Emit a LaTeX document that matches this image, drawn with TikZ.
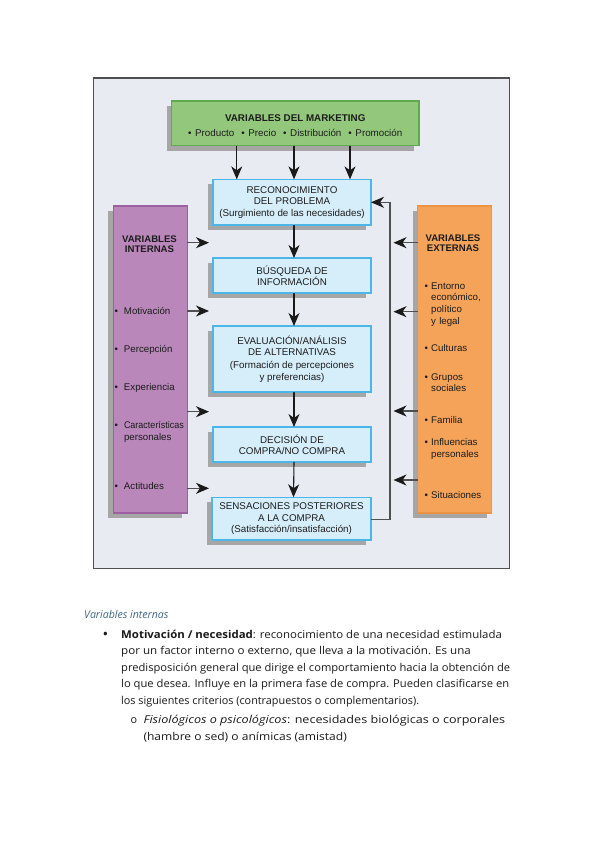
\documentclass[tikz,border=0pt]{standalone}
\usepackage{fontspec}
\usepackage{graphicx}
\usetikzlibrary{arrows.meta,shadows}
\newfontfamily\dfont{Liberation Sans}
\newfontfamily\tfont{Open Sans}
\definecolor{framefill}{HTML}{E9EBF3}
\definecolor{framedraw}{HTML}{505050}
\definecolor{shadowc}{HTML}{A6A6A6}
\definecolor{greenf}{HTML}{93C87C}
\definecolor{greend}{HTML}{5EAA4C}
\definecolor{bluef}{HTML}{D6EEFA}
\definecolor{blued}{HTML}{4DB6E8}
\definecolor{purplef}{HTML}{B987BA}
\definecolor{purpled}{HTML}{9C5FA0}
\definecolor{orangef}{HTML}{F4A359}
\definecolor{oranged}{HTML}{EC9443}
\definecolor{txt}{HTML}{1C1C1C}
\definecolor{arrowc}{HTML}{1A1A1A}
\definecolor{fbc}{HTML}{505050}
\definecolor{bodyc}{HTML}{1A1A1A}
\definecolor{headc}{HTML}{41678A}
\tikzset{
  arr/.style={-{Stealth[length=13bp,width=11bp,inset=4bp]}, line width=1.1bp, draw=arrowc},
  arrg/.style={-{Stealth[length=13bp,width=11bp,inset=4bp,arrowc]}, line width=1.1bp, draw=fbc},
  box/.style={draw, line width=1.3bp, inner sep=0pt, outer sep=0pt,
    drop shadow={shadow xshift=-5bp, shadow yshift=-5bp, fill=shadowc, opacity=1},
    align=center, text=txt, font=\dfont\fontsize{9.8bp}{11.4bp}\selectfont},
  stepbox/.style={box, fill=bluef, draw=blued, minimum width=158bp},
  sidebox/.style={box, minimum width=74bp, minimum height=307bp},
  dtext/.style={inner sep=0pt, text=txt, font=\dfont\fontsize{9.8bp}{11.4bp}\selectfont},
  sidetitle/.style={inner sep=0pt, anchor=base, text width=74bp, align=center, text=txt,
    font=\dfont\bfseries\fontsize{9.6bp}{10.2bp}\selectfont},
  item/.style={inner sep=0pt, anchor=base west, text width=76bp, align=left, text=txt,
    font=\dfont\fontsize{9.7bp}{11.7bp}\selectfont},
  body/.style={inner sep=0pt, anchor=base west, text=bodyc, font=\tfont\fontsize{10.8bp}{12bp}\selectfont},
}
\newcommand\lb{\makebox[9.5bp][l]{\textbullet}}
\newcommand\lc{\hspace*{9.5bp}}
\newcommand\rb{\makebox[6.7bp][l]{\textbullet}}
\newcommand\rc{\hspace*{6.7bp}}
\newcommand\mb{\textbullet\hspace{3.6bp}}
\newcommand\fitw[2]{\resizebox{#1bp}{\height}{#2}}
\begin{document}
\begin{tikzpicture}[x=1bp,y=-1bp]
\useasboundingbox (0,0) rectangle (599,848);
\fill[white] (0,0) rectangle (599,848);

% frame
\node[draw=framedraw, fill=framefill, line width=1.2bp, inner sep=0pt,
  minimum width=416bp, minimum height=490.5bp] (frame) at (301.5,323.25) {};

% marketing box
\node[box, fill=greenf, draw=greend, minimum width=247.5bp, minimum height=44.5bp] (mkt) at (295.25,123.25) {};
\node[dtext, anchor=base, font=\dfont\bfseries\fontsize{9.8bp}{11bp}\selectfont] (mktt) at (295.25,121.2) {VARIABLES DEL MARKETING};
\node[dtext, anchor=base] (mktl) at (295.25,136.4) {\mb Producto\hspace{7bp}\mb Precio\hspace{7bp}\mb Distribución\hspace{7bp}\mb Promoción};

% process boxes
\node[stepbox, minimum height=45.7bp] (rec) at (292,202.2) {RECONOCIMIENTO\\DEL PROBLEMA\\(Surgimiento de las necesidades)};
\node[stepbox, minimum height=35bp] (bus) at (292,275.5) {BÚSQUEDA DE\\INFORMACIÓN};
\node[stepbox, minimum height=66bp] (eva) at (292,359) {EVALUACIÓN/ANÁLISIS\\DE ALTERNATIVAS\\[2bp](Formación de percepciones\\y preferencias)};
\node[stepbox, minimum height=35bp] (dec) at (292,444.5) {DECISIÓN DE\\COMPRA/NO COMPRA};
\node[stepbox, minimum width=159bp, minimum height=42.7bp] (sen) at (291.5,518.6) {SENSACIONES POSTERIORES\\A LA COMPRA\\(Satisfacción/insatisfacción)};

% side boxes
\node[sidebox, fill=purplef, draw=purpled] (vint) at (150.3,359.5) {};
\node[sidebox, fill=orangef, draw=oranged] (vext) at (454.7,359.5) {};

% internal variables text
\node[sidetitle] (vintt) at (149.5,242.4) {VARIABLES\\INTERNAS};
\node[item] (i1) at (114.3,314.2) {\lb Motivación};
\node[item] (i2) at (114.3,352.5) {\lb Percepción};
\node[item] (i3) at (114.3,390.5) {\lb Experiencia};
\node[item] (i4) at (114.3,428.5) {\lb \fitw{60}{Características}\\\lc personales};
\node[item] (i5) at (114.3,489.2) {\lb Actitudes};

% external variables text
\node[sidetitle] (vextt) at (453,241.4) {VARIABLES\\EXTERNAS};
\node[item] (e1) at (424.3,289.2) {\rb Entorno\\\rc económico,\\\rc político\\\rc y legal};
\node[item] (e2) at (424.3,351.8) {\rb Culturas};
\node[item] (e3) at (424.3,380.2) {\rb Grupos\\\rc sociales};
\node[item] (e4) at (424.3,423.5) {\rb Familia};
\node[item] (e5) at (424.3,445.5) {\rb Influencias\\\rc personales};
\node[item] (e6) at (424.3,498.5) {\rb Situaciones};

% arrows from marketing
\draw[arr] ([xshift=-58.5bp]mkt.south) -- ([xshift=-58.5bp]mkt.south |- rec.north);
\draw[arr] ([xshift=-1.25bp]mkt.south) -- ([xshift=-1.25bp]mkt.south |- rec.north);
\draw[arr] ([xshift=54.75bp]mkt.south) -- ([xshift=54.75bp]mkt.south |- rec.north);

% process arrows
\draw[arr] ([xshift=2bp]rec.south) -- ([xshift=2bp]bus.north);
\draw[arr] ([xshift=2bp]bus.south) -- ([xshift=2bp]eva.north);
\draw[arr] ([xshift=2bp]eva.south) -- ([xshift=2bp]dec.north);
\draw[arr] ([xshift=2bp]dec.south) -- ([xshift=2bp]sen.north);

% internal arrows
\coordinate (li1) at (209,242.7);
\coordinate (li2) at (209,311);
\coordinate (li3) at (209,411.7);
\coordinate (li4) at (209,488.3);
\foreach \c in {li1,li2,li3,li4} \draw[arrg] (vint.east |- \c) -- (\c);

% external arrows
\coordinate (ri1) at (393.5,242.7);
\coordinate (ri2) at (393.5,311.7);
\coordinate (ri3) at (393.5,411);
\coordinate (ri4) at (393.5,480);
\foreach \c in {ri1,ri2,ri3,ri4} \draw[arrg] (vext.west |- \c) -- (\c);

% feedback
\coordinate (fbb) at (390,519.3);
\coordinate (fbt) at (390,202.3);
\draw[arrg, line width=1.3bp] (sen.east |- fbb) -- (fbb) -- (fbt) -- (rec.east |- fbt);

% body text
\node[body, text=headc, font=\tfont\itshape\fontsize{10.8bp}{12bp}\selectfont] (h) at (84,618) {\fitw{84.3}{Variables internas}};
\node[body, anchor=base, font=\tfont\fontsize{15bp}{15bp}\selectfont] (b1) at (105.5,639.5) {\textbullet};
\node[body] (t1) at (121,638) {\fitw{380.7}{\textbf{Motivación / necesidad}: reconocimiento de una necesidad estimulada}};
\node[body] (t2) at (121,654.6) {\fitw{349.7}{por un factor interno o externo, que lleva a la motivación. Es una}};
\node[body] (t3) at (121,671.2) {\fitw{389}{predisposición general que dirige el comportamiento hacia la obtención de}};
\node[body] (t4) at (121,687.8) {\fitw{388}{lo que desea. Influye en la primera fase de compra. Pueden clasificarse en}};
\node[body] (t5) at (121,704.4) {\fitw{298}{los siguientes criterios (contrapuestos o complementarios).}};
\node[body, anchor=base] (b2) at (134,723.4) {o};
\node[body] (t6) at (143.3,723.4) {\fitw{361.7}{\textit{Fisiológicos o psicológicos}: necesidades biológicas o corporales}};
\node[body] (t7) at (143.3,740) {\fitw{203.4}{(hambre o sed) o anímicas (amistad)}};
\end{tikzpicture}
\end{document}
